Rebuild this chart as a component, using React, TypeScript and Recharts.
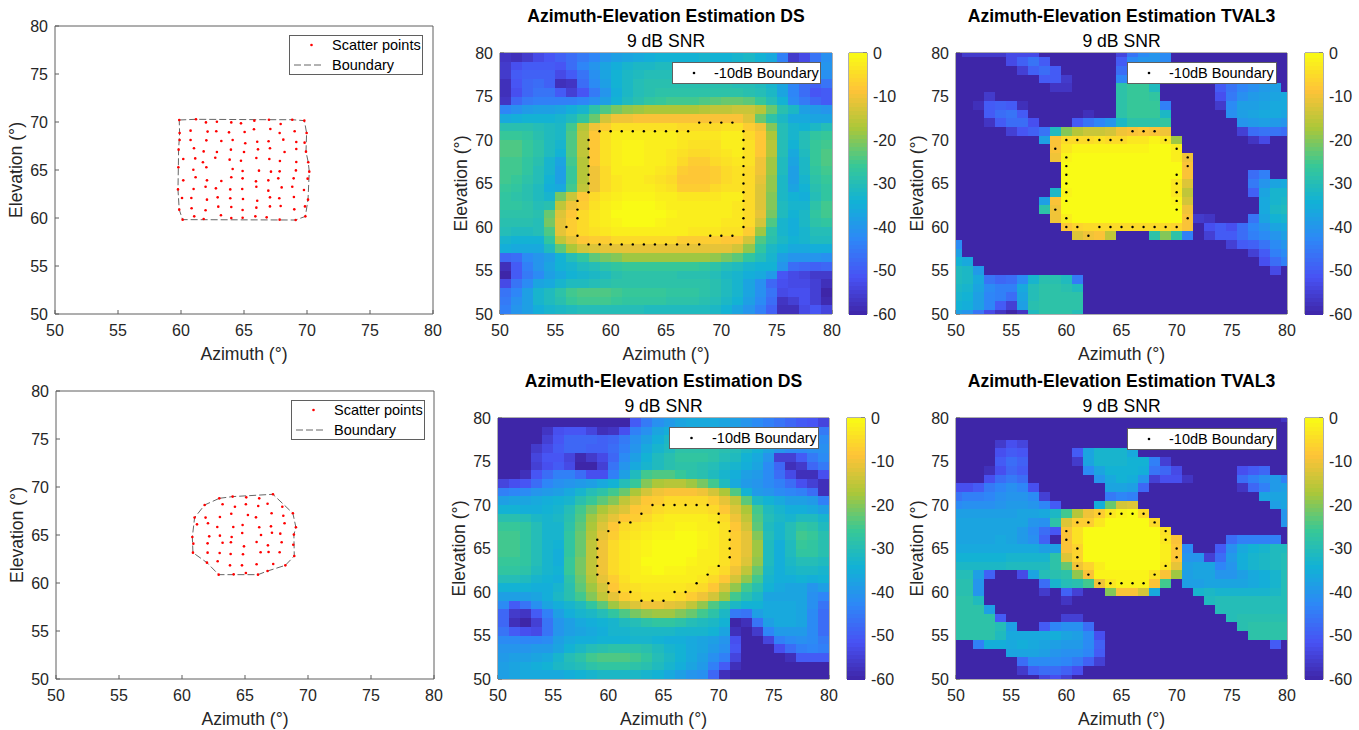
import React from 'react';
import { ScatterChart, Scatter, XAxis, YAxis } from 'recharts';

const azTicks = [50, 55, 60, 65, 70, 75, 80];
const elTicks = [50, 55, 60, 65, 70, 75, 80];
const cbTicks = [-60, -50, -40, -30, -20, -10, 0];

// heatmap values are dB below peak, rows from top to bottom
const dsTopRows = [
  [57,58,56,53,51,49,47,45,43,40,38,37,36,35,34,34,34,34,33,34,34,33,32,34,36,44,56,53,46,41],
  [56,52,50,50,50,51,47,43,40,37,35,33,32,32,31,31,31,31,31,32,32,32,33,35,38,42,46,47,44,40],
  [56,50,49,49,49,53,50,46,41,37,34,32,31,30,30,30,30,30,30,30,31,31,32,33,36,41,44,46,45,41],
  [58,51,48,47,49,58,57,47,42,38,34,32,30,29,29,29,29,29,29,29,29,30,30,31,33,37,43,47,49,46],
  [58,52,48,46,46,50,55,51,45,40,35,32,30,29,28,28,28,28,28,28,28,28,29,30,32,37,43,47,51,50],
  [57,48,45,44,44,44,44,43,41,38,34,31,29,27,26,25,25,25,24,23,22,22,23,26,30,34,42,45,48,50],
  [43,41,39,38,38,37,35,33,28,24,21,19,18,17,17,17,17,17,16,15,15,14,14,16,22,29,32,38,39,40],
  [36,35,34,34,34,33,31,27,22,13,10,10,9,9,9,9,9,9,9,9,9,9,12,22,28,32,36,36,37,37],
  [29,29,29,30,31,32,25,16,10,7,4,4,4,4,4,4,5,5,5,5,4,4,7,10,20,30,33,34,32,30],
  [26,26,27,29,31,32,24,15,8,4,2,2,2,2,2,2,3,3,3,3,2,2,5,8,17,30,33,30,27,26],
  [24,24,26,28,31,33,24,15,8,4,2,1,1,2,2,2,3,4,4,4,2,2,4,8,16,30,34,30,26,25],
  [24,24,26,28,31,34,24,15,8,4,2,1,1,2,2,3,4,5,5,4,3,2,4,8,16,30,36,31,26,24],
  [25,25,27,29,33,37,25,16,8,4,2,1,1,2,2,3,5,7,7,5,4,3,4,10,18,31,37,32,26,24],
  [25,25,27,30,33,38,26,16,10,5,2,2,2,2,3,4,7,8,8,7,5,4,5,10,18,31,38,32,27,25],
  [25,26,28,30,34,38,26,16,10,5,3,2,2,3,4,5,8,8,8,7,5,4,5,11,19,32,38,33,28,26],
  [26,27,29,31,35,36,25,15,10,5,3,2,2,2,3,4,7,7,7,5,4,4,5,12,19,32,37,34,29,27],
  [27,28,29,31,33,21,14,8,5,3,2,1,1,1,2,2,3,3,3,3,2,2,5,12,20,32,34,35,30,27],
  [27,27,28,30,29,15,10,7,4,2,1,0,0,0,1,2,2,2,2,2,2,3,5,12,20,31,33,33,28,25],
  [28,28,28,29,22,12,8,5,3,2,0,0,0,0,0,1,2,2,2,2,2,3,5,11,21,31,34,32,27,25],
  [29,29,29,30,21,11,7,5,3,2,1,0,0,0,1,2,2,2,2,2,3,3,5,13,24,33,35,32,28,27],
  [30,31,31,30,24,11,7,5,4,3,2,2,2,2,2,2,2,3,3,3,4,4,7,18,28,33,35,33,30,30],
  [33,34,34,34,27,15,11,8,7,7,5,5,5,5,5,5,7,7,7,7,8,8,13,24,29,32,34,33,31,31],
  [35,36,36,36,31,23,17,13,12,11,11,11,11,11,11,11,11,11,11,11,11,13,19,27,32,34,36,36,35,35],
  [48,47,42,40,38,34,30,27,23,21,20,18,18,18,18,18,18,18,18,19,21,23,27,30,33,38,40,40,40,41],
  [58,50,44,40,37,34,33,31,30,28,27,26,26,26,26,26,26,26,27,28,30,31,33,34,34,40,47,48,49,48],
  [60,50,45,42,38,36,34,33,32,31,29,28,28,28,28,28,29,29,29,30,32,33,35,36,39,51,53,54,56,56],
  [53,46,42,37,36,33,31,31,30,29,28,28,28,28,28,28,28,28,28,29,31,33,37,41,48,52,53,53,55,58],
  [46,43,38,33,31,28,25,24,24,24,25,26,26,26,26,27,27,27,28,29,31,33,37,41,46,53,52,52,55,60],
  [45,41,38,33,31,29,26,25,25,25,26,27,27,27,27,28,28,28,29,30,32,34,38,42,47,57,55,52,55,59],
  [44,40,38,35,33,32,31,30,30,30,30,30,30,31,31,31,31,31,31,32,34,37,40,44,49,58,58,53,51,54],
];

const tvalTopRows = [
  [60,56,56,56,56, 53,53,53,60,60, 60,60,60,60,60, 54,46,42,40,42, 60,60,60,60,60, 60,60,60,60,60, 60],
  [60,60,60,60,60, 53,49,46,50,60, 60,60,60,60,60, 50,42,40,40,42, 60,60,60,60,60, 60,60,60,60,60, 60],
  [60,60,60,60,60, 60,55,49,47,50, 60,60,60,60,60, 47,40,40,40,40, 60,60,60,60,60, 60,60,60,60,60, 60],
  [60,60,60,60,60, 60,60,60,50,50, 56,60,60,60,60, 43,33,33,33,33, 60,60,60,60,60, 60,60,60,60,60, 60],
  [60,60,60,60,60, 60,60,60,60,57, 57,60,60,60,60, 28,26,26,31,60, 60,60,60,60,50, 46,43,41,39,38, 60],
  [60,60,60,56,60, 60,60,60,60,60, 60,60,60,60,60, 28,26,26,27,60, 60,60,60,60,52, 45,41,39,38,37, 36],
  [60,60,58,50,49, 50,58,60,60,60, 60,60,60,60,60, 28,26,26,26,44, 60,60,60,60,56, 42,38,38,37,36, 36],
  [60,60,60,50,47, 46,50,60,60,60, 60,60,58,60,60, 28,26,26,26,32, 60,60,60,60,60, 41,38,37,36,36, 37],
  [60,60,60,57,50, 47,47,52,60,60, 60,50,46,43,40, 32,28,28,28,27, 60,60,60,60,60, 60,40,39,38,39, 40],
  [60,60,60,60,60, 55,51,49,46,31, 20,16,14,14,13, 10,9,8,9,10, 60,60,60,60,60, 60,55,47,46,46, 47],
  [60,60,60,60,60, 60,60,60,38,9, 5,5,5,4,5, 5,3,3,1,3, 18,60,60,60,60, 60,60,57,53,60, 60],
  [60,60,60,60,60, 60,60,60,60,9, 3,1,1,1,1, 1,1,1,0,0, 2,60,60,60,60, 60,60,60,60,60, 60],
  [60,60,60,60,60, 60,60,60,60,10, 1,0,0,0,0, 0,0,0,0,0, 2,10,60,60,60, 60,60,60,60,60, 60],
  [60,60,60,60,60, 60,60,60,60,60, 0,0,0,0,0, 0,0,0,0,0, 0,9,60,60,60, 60,60,60,60,60, 60],
  [60,60,60,60,60, 60,60,60,60,60, 0,0,0,0,0, 0,0,0,0,0, 0,9,60,60,60, 60,60,47,44,60, 60],
  [60,60,60,60,60, 60,60,60,60,60, 0,0,0,0,0, 0,0,0,0,0, 3,12,60,60,60, 60,60,45,40,37, 36],
  [60,60,60,60,60, 60,60,60,60,32, 1,0,0,0,0, 0,0,0,0,0, 3,15,60,60,60, 60,60,49,37,33, 33],
  [60,60,60,60,60, 60,60,60,38,9, 0,0,0,0,0, 0,0,0,0,0, 1,13,60,60,60, 60,60,60,36,33, 32],
  [60,60,60,60,60, 60,60,60,28,10, 0,0,0,0,0, 0,0,0,0,0, 0,10,60,60,60, 60,60,60,36,32, 31],
  [60,60,60,60,60, 60,60,60,60,10, 2,0,0,0,0, 0,0,0,0,0, 0,9,56,57,60, 60,60,46,37,34, 33],
  [60,60,60,60,60, 60,60,60,60,60, 8,6,5,5,5, 5,5,5,5,5, 6,9,60,52,50, 52,47,43,40,37, 36],
  [60,60,60,60,60, 60,60,60,60,60, 60,12,10,9,15, 60,60,60,28,20, 28,44,60,55,50, 50,47,44,42,40, 38],
  [42,60,60,60,60, 60,60,60,60,60, 60,60,60,60,60, 60,60,60,60,60, 60,60,60,60,60, 55,50,49,46,42, 40],
  [38,60,60,60,60, 60,60,60,60,60, 60,60,60,60,60, 60,60,60,60,60, 60,60,60,60,60, 60,60,55,50,44, 42],
  [34,36,60,60,60, 60,60,60,60,60, 60,60,60,60,60, 60,60,60,60,60, 60,60,60,60,60, 60,60,60,52,47, 44],
  [31,32,39,60,60, 60,60,60,60,60, 60,60,60,60,60, 60,60,60,60,60, 60,60,60,60,60, 60,60,60,60,53, 60],
  [31,32,36,46,48, 47,42,33,29,29, 31,45,60,60,60, 60,60,60,60,60, 60,60,60,60,60, 60,60,60,60,60, 60],
  [32,33,37,42,44, 44,36,30,28,28, 29,31,60,60,60, 60,60,60,60,60, 60,60,60,60,60, 60,60,60,60,60, 60],
  [33,34,38,43,44, 47,37,30,28,28, 28,28,60,60,60, 60,60,60,60,60, 60,60,60,60,60, 60,60,60,60,60, 60],
  [34,35,38,43,50, 55,38,29,28,28, 28,28,60,60,60, 60,60,60,60,60, 60,60,60,60,60, 60,60,60,60,60, 60],
  [38,40,46,53,57, 60,57,31,28,28, 28,30,60,60,60, 60,60,60,60,60, 60,60,60,60,60, 60,60,60,60,60, 60],
];

const dsBottomRows = [
  [60,60,60,60,60, 60,60,60,60,60, 60,60,50,45,41, 39,37,36,36,36, 37,38,40,42,44, 46,48,50,51,54],
  [60,60,60,60,57, 52,51,51,54,58, 57,52,44,41,37, 35,33,32,32,32, 33,34,36,38,40, 42,44,46,47,45],
  [60,60,60,60,55, 51,48,48,48,49, 48,45,41,38,35, 32,30,30,30,30, 31,32,34,36,38, 40,42,42,42,42],
  [60,60,60,56,53, 50,48,48,49,49, 47,44,40,36,33, 31,28,28,28,28, 29,30,32,34,37, 40,42,42,41,41],
  [60,60,60,54,51, 51,54,59,56,53, 48,42,38,34,31, 29,27,27,27,28, 30,31,34,36,40, 55,55,50,45,42],
  [60,60,60,55,52, 50,53,60,60,55, 46,40,36,33,31, 29,28,28,29,30, 32,33,35,37,42, 48,58,56,48,45],
  [60,60,58,51,47, 44,44,47,52,52, 44,38,31,25,24, 24,26,28,29,31, 33,35,38,39,42, 47,53,58,58,52],
  [54,52,51,47,43, 41,40,39,38,36, 34,30,26,20,17, 16,16,18,21,25, 31,36,39,40,42, 44,47,52,55,58],
  [44,43,42,40,39, 38,36,33,30,28, 25,22,17,13,10, 9,9,9,10,13, 17,24,34,39,40, 42,43,44,47,58],
  [38,37,37,36,35, 34,33,29,26,23, 20,15,12,8,7, 5,5,5,5,7, 11,15,23,32,34, 36,38,38,39,44],
  [34,34,35,35,34, 33,30,25,21,17, 14,12,8,7,5, 4,4,4,4,5, 8,12,17,25,31, 33,35,35,36,38],
  [29,29,30,32,33, 32,29,24,18,14, 11,8,7,5,3, 2,2,2,2,3, 5,10,15,24,30, 32,33,31,31,33],
  [26,26,27,30,33, 33,28,23,17,12, 8,5,4,3,2, 2,1,1,2,2, 4,8,13,23,31, 33,30,27,28,31],
  [25,25,27,30,33, 33,27,22,16,11, 7,4,3,2,1, 1,0,0,1,2, 4,7,11,20,30, 33,30,25,26,29],
  [25,25,27,30,33, 34,27,22,15,10, 5,3,2,1,0, 0,0,0,1,2, 4,7,11,18,31, 35,31,26,27,29],
  [25,25,27,30,33, 35,27,22,15,10, 5,3,2,1,0, 0,0,0,2,2, 4,7,11,18,31, 35,31,27,27,29],
  [26,26,27,30,33, 35,26,21,15,10, 5,3,2,0,0, 0,0,1,2,2, 4,7,12,19,31, 35,32,30,30,31],
  [27,27,28,31,33, 34,26,21,15,10, 5,3,2,1,0, 1,1,2,2,3, 5,10,15,22,32, 35,33,32,32,33],
  [30,30,31,33,34, 35,28,22,16,11, 7,4,2,2,2, 2,2,2,3,5, 8,13,19,25,33, 35,35,34,35,34],
  [34,34,34,35,35, 33,29,23,18,13, 8,5,4,3,3, 3,3,4,5,8, 13,19,25,29,34, 36,37,37,40,38],
  [38,38,38,37,35, 32,29,25,20,15, 11,7,5,4,4, 4,5,7,10,13, 18,25,29,32,37, 37,37,37,41,43],
  [42,50,46,41,37, 35,33,31,27,23, 18,14,12,10,10, 11,12,15,19,24, 28,32,34,34,36, 36,36,37,41,46],
  [48,56,57,50,44, 38,35,33,32,30, 27,24,21,19,18, 18,20,22,25,28, 32,45,46,38,36, 36,36,37,42,47],
  [48,58,60,55,46, 40,38,36,35,34, 33,31,30,28,27, 27,28,30,31,32, 34,60,58,46,38, 36,36,37,42,47],
  [46,50,52,53,46, 40,38,37,36,35, 33,33,32,32,32, 32,33,33,33,34, 37,58,60,56,43, 39,39,39,42,47],
  [42,42,43,43,42, 38,36,35,35,34, 34,34,33,33,34, 35,35,36,37,38, 40,52,60,60,54, 44,42,41,42,45],
  [40,40,40,39,39, 37,34,32,30,29, 28,28,28,29,31, 33,34,36,37,39, 41,51,60,60,60, 52,47,44,43,44],
  [39,38,38,37,36, 33,30,28,25,24, 24,24,25,27,30, 32,34,36,38,41, 44,54,60,60,60, 60,58,50,50,50],
  [38,37,36,35,34, 32,31,30,28,27, 27,27,28,29,31, 33,35,37,39,44, 50,58,60,60,60, 60,60,60,60,60],
  [38,37,36,36,36, 36,35,34,33,32, 32,32,32,33,34, 36,38,40,41,48, 58,60,60,60,60, 60,60,60,60,60],
];

const tvalBottomRows = [
  [60,60,60,60,60, 60,60,60,60,60, 60,60,60,60,60, 60,60,60,60,60, 60,60,60,60,60, 60,60,60,60,60, 57],
  [60,60,60,60,60, 60,60,60,60,60, 60,60,60,60,60, 60,60,60,60,60, 60,60,60,60,60, 60,60,60,60,60, 60],
  [60,60,60,60,60, 60,60,60,60,60, 60,60,60,60,60, 60,60,60,60,60, 60,60,60,60,60, 60,60,60,60,60, 60],
  [60,60,60,60,56, 52,54,60,60,60, 60,60,60,60,60, 60,60,60,60,60, 60,60,60,60,60, 60,60,60,60,60, 60],
  [60,60,60,60,52, 50,51,60,60,60, 60,50,37,33,33, 33,36,60,60,60, 60,60,60,60,60, 60,60,60,60,60, 60],
  [60,60,60,60,50, 47,49,60,60,60, 60,56,37,33,33, 33,34,34,44,55, 60,60,60,60,60, 60,60,60,60,60, 60],
  [60,60,60,58,52, 48,50,60,60,60, 60,60,42,37,34, 34,34,35,46,48, 53,60,60,60,60, 60,52,50,48,60, 60],
  [60,60,60,52,47, 45,47,60,60,60, 60,60,60,40,36, 34,35,40,55,52, 52,57,60,60,60, 60,47,44,41,39, 44],
  [52,52,50,45,43, 41,43,52,60,60, 60,60,60,60,37, 37,38,48,60,60, 60,60,60,60,60, 60,57,48,44,39, 38],
  [46,44,44,43,41, 40,40,42,55,60, 60,60,60,60,45, 43,44,60,60,60, 60,60,60,60,60, 60,60,60,37,37, 37],
  [42,41,41,41,40, 39,39,40,43,50, 60,60,60,35,22, 13,12,60,60,60, 60,60,60,60,60, 60,60,60,60,38, 37],
  [38,38,38,38,38, 38,37,37,36,32, 25,16,10,7,3, 1,0,5,60,60, 60,60,60,60,60, 60,60,60,60,60, 40],
  [37,37,37,37,37, 37,37,40,41,28, 12,7,7,3,0, 0,0,0,5,60, 60,60,60,60,60, 60,60,60,60,60, 40],
  [37,37,37,37,37, 37,39,42,47,51, 9,4,0,0,0, 0,0,0,0,4, 60,60,60,60,60, 60,60,60,60,60, 60],
  [37,37,37,37,36, 37,39,41,49,60, 9,4,0,0,0, 0,0,0,0,3, 9,60,60,60,60, 47,44,44,44,44, 60],
  [36,36,36,36,36, 36,36,36,38,38, 9,6,0,0,0, 0,0,0,0,2, 8,42,60,60,50, 41,36,34,33,31, 31],
  [34,34,34,34,34, 33,33,33,33,28, 12,6,0,0,0, 0,0,0,0,2, 8,40,40,55,47, 39,35,33,32,31, 30],
  [32,32,32,32,32, 31,31,31,31,28, 22,10,6,2,0, 0,0,0,0,3, 11,38,37,37,43, 40,35,33,32,31, 30],
  [30,30,38,49,60, 60,53,37,30,29, 28,19,9,1,1, 1,1,1,4,9, 18,38,37,37,40, 40,38,36,35,33, 30],
  [29,29,40,60,60, 60,60,60,47,33, 30,29,25,10,3, 1,1,1,9,25, 60,38,38,37,37, 37,37,36,35,33, 30],
  [29,29,40,60,60, 60,60,60,56,60, 49,55,60,60,20, 9,9,13,36,60, 60,60,33,32,33, 33,33,33,33,32, 30],
  [28,28,31,60,60, 60,60,60,60,60, 57,60,60,60,60, 60,60,60,60,60, 60,60,60,31,30, 30,30,30,30,30, 30],
  [28,28,28,38,60, 60,60,60,60,60, 60,60,60,60,60, 60,60,60,60,60, 60,60,60,60,30, 30,30,30,30,30, 30],
  [28,28,28,28,50, 60,60,60,60,60, 55,55,60,60,60, 60,60,60,60,60, 60,60,60,60,60, 30,29,29,29,29, 29],
  [28,28,28,28,30, 38,60,60,50,43, 41,41,47,60,60, 60,60,60,60,60, 60,60,60,60,60, 60,29,28,28,28, 28],
  [28,28,28,28,31, 36,36,36,36,35, 37,38,42,52,60, 60,60,60,60,60, 60,60,60,60,60, 60,60,28,28,28, 28],
  [60,60,44,35,35, 36,35,36,37,38, 39,39,42,49,60, 60,60,60,60,60, 60,60,60,60,60, 60,60,60,60,50, 60],
  [60,60,60,60,60, 37,37,37,38,40, 41,41,43,50,60, 60,60,60,60,60, 60,60,60,60,60, 60,60,60,60,60, 60],
  [60,60,60,60,60, 60,47,42,42,42, 43,45,49,55,60, 60,60,60,60,60, 60,60,60,60,60, 60,60,60,60,60, 60],
  [60,60,60,60,60, 60,56,49,47,47, 49,52,60,60,60, 60,60,60,60,60, 60,60,60,60,60, 60,60,60,60,60, 60],
  [60,60,60,60,60, 60,60,60,54,52, 55,60,60,60,60, 60,60,60,60,60, 60,60,60,60,60, 60,60,60,60,60, 60],
];

// -10 dB boundary dots: [azimuth, elevation]
const dsTopDots = [
  [68,72],[69,72],[70,72],[71,72],
  [59,71],[60,71],[61,71],[62,71],[63,71],[64,71],[65,71],[66,71],[67,71],[72,71],
  [58,70],[58,69],[58,68],[58,67],[58,66],[58,65],[58,64],
  [72,70],[72,69],[72,68],[72,67],[72,66],[72,65],[72,64],[72,63],[72,62],[72,61],[72,60],
  [57,63],[57,62],[57,61],[56,60],[57,59],[69,59],[70,59],[71,59],
  [58,58],[59,58],[60,58],[61,58],[62,58],[63,58],[64,58],[65,58],[66,58],[67,58],[68,58],
];
const tvalTopDots = [
  [66,71],[67,71],[68,71],
  [60,70],[61,70],[62,70],[63,70],[64,70],[65,70],[69,70],
  [59,69],[70,69],[60,68],[71,68],[60,67],[71,67],[60,66],[70,66],[60,65],[70,65],
  [60,64],[70,64],[60,63],[70,63],[59,62],[70,62],[60,61],[71,61],
  [60,60],[61,60],[63,60],[64,60],[65,60],[66,60],[67,60],[68,60],[69,60],[70,60],[62,59],
];
const dsBottomDots = [
  [64,70],[65,70],[66,70],[67,70],[68,70],[69,70],
  [63,69],[70,69],[61,68],[62,68],[70,68],[60,67],[71,67],[59,66],[71,66],[59,65],[71,65],
  [59,64],[71,64],[59,63],[70,63],[59,62],[69,62],[60,61],[68,61],
  [60,60],[61,60],[62,60],[66,60],[67,60],[63,59],[64,59],[65,59],
];
const tvalBottomDots = [
  [63,69],[64,69],[65,69],[66,69],[67,69],
  [61,68],[62,68],[68,68],[60,67],[69,67],[60,66],[69,66],[61,65],[70,65],[61,64],[70,64],
  [61,63],[69,63],[62,62],[68,62],
  [63,61],[64,61],[65,61],[66,61],[67,61],
];

// scatter points: [azimuth, elevation]
const squarePoints = [
  [59.86,70.21],[61.19,70.28],[61.98,69.96],[62.85,70.03],[63.99,69.96],[64.76,69.86],[65.82,70.14],[66.98,70.24],[67.91,69.79],[68.83,70.24],[69.79,70.14],
  [59.89,68.85],[60.76,69.1],[62.11,69],[62.8,69.03],[63.81,68.92],[65.05,68.96],[65.79,69.24],[67.09,69.27],[67.83,68.85],[69.02,69.03],[69.97,68.85],
  [59.89,68.12],[60.76,68.12],[62.01,68.09],[63.2,68.02],[64.1,68.12],[65.1,67.78],[66.05,67.95],[66.95,67.99],[68.12,68.16],[69.15,67.92],[69.81,67.85],
  [59.81,67.12],[61.03,67.26],[61.8,66.94],[62.85,66.87],[63.96,67.12],[65,66.87],[66.11,67.15],[67.06,67.26],[68.22,66.87],[69.15,67.19],[69.92,66.91],
  [60.18,66.15],[61.13,66.21],[61.74,65.8],[62.72,66.28],[63.86,66.08],[64.76,65.97],[65.98,66.25],[67.01,66.15],[67.85,65.94],[69.15,65.83],[70.1,65.8],
  [59.79,65.28],[60.98,65.03],[62.01,65.28],[64.1,65.1],[64.89,64.9],[66.19,64.93],[67.14,64.83],[67.83,64.86],[69.12,64.96],[70.18,64.83],
  [60.18,63.92],[61.16,64.24],[62.06,63.92],[63.2,63.85],[63.99,64.24],[64.89,64.13],[65.95,63.82],[66.93,63.92],[67.72,64.13],[68.94,64.13],[70.05,64.1],
  [59.76,62.98],[61,63.02],[61.95,63.26],[62.77,63.09],[63.91,62.98],[64.86,63.02],[65.98,63.26],[66.93,62.85],[67.99,63.19],[68.83,63.26],[69.76,62.92],
  [60.08,62.08],[60.82,62.08],[62.06,61.91],[62.91,62.15],[63.91,62.05],[64.92,61.98],[66.05,61.8],[67.06,62.15],[67.8,62.05],[68.96,62.19],[70.08,61.91],
  [59.86,60.87],[60.84,61.01],[61.95,60.8],[62.96,61.18],[63.99,61.15],[64.89,60.83],[65.98,61.08],[67.06,61.21],[67.91,61.25],[68.99,60.9],[69.84,61.21],
  [60.13,59.83],[61.05,60.17],[61.8,59.9],[63.17,60.28],[63.99,60],[64.89,60.03],[65.9,60.17],[66.8,60.07],[67.83,59.83],[69.1,59.79],[69.87,60.17],
];
const squareBoundary = [
  [59.86,70.21],[61.19,70.28],[66.98,70.24],[68.83,70.24],[69.79,70.14],[69.97,68.85],[69.92,66.91],[70.1,65.8],[70.18,64.83],[70.08,61.91],
  [69.87,60.17],[69.1,59.79],[60.13,59.83],[59.86,60.87],[59.76,62.98],[59.79,65.28],[59.81,67.12],[59.89,68.85],[59.86,70.21],
];
const roundPoints = [
  [62.96,68.82],[64.02,69],[65.1,68.92],[66.13,68.82],[67.22,69.24],
  [63.22,68.2],[64.2,67.95],[65.07,68.2],[66.05,68.02],[66.79,68.26],[67.96,67.95],
  [61.8,68.13],[61,66.81],[61.87,66.81],[63.01,66.88],[63.91,67.22],[65.23,67.08],[65.87,66.84],[67.11,67.26],[68.04,67.01],[68.8,67.26],
  [61.19,66.11],[62.06,66.22],[62.8,65.83],[64.07,65.83],[64.81,66.04],[66.13,65.8],[67.06,65.9],[68.14,66.22],[69.04,65.8],
  [60.82,64.79],[62.16,64.86],[63.01,64.93],[63.94,64.79],[64.78,65.21],[66.27,65],[67.14,65.24],[67.8,65.14],[68.88,65.04],
  [60.9,64.1],[62.03,64.13],[63.22,64.2],[63.88,64.24],[64.92,63.82],[65.92,64.27],[66.82,63.92],[67.91,64.24],[68.83,63.99],
  [60.87,63.16],[62.03,63.16],[62.99,63.13],[63.86,63.02],[64.84,62.99],[66.24,63.2],[66.87,63.23],[67.75,63.2],[68.91,62.81],
  [61.98,62.12],[62.83,62.26],[63.81,61.84],[64.76,61.84],[65.92,61.95],[67.24,61.98],[68.2,61.84],
  [62.91,60.87],[64.1,60.9],[65.07,61.04],[66.03,60.87],[66.79,61.25],
];
const roundBoundary = [
  [62.96,68.82],[64.02,69],[67.22,69.24],[68.8,67.26],[69.04,65.8],[68.88,65.04],[68.91,62.81],[68.2,61.84],[66.79,61.25],[66.03,60.87],
  [62.91,60.87],[61.98,62.12],[60.87,63.16],[60.82,64.79],[61,66.81],[61.8,68.13],[62.96,68.82],
];

// parula colormap stops from -60 dB to 0 dB
const parulaStops = [
  [62, 38, 168], [72, 82, 244], [46, 135, 247], [18, 177, 214],
  [55, 200, 151], [171, 199, 57], [254, 195, 56], [249, 251, 21],
];
const cbLevels = Array.from({ length: 64 }, (_, i) => -60 + (i + 0.5) * (60 / 64));

const FONT = '"Liberation Sans", Arial, sans-serif';
const INK = '#262626';
const FRAME = '#5f5f5f';
const GUTTER = { left: 50, right: 12, top: 10, bottom: 50 };

function dbColor(db: number) {
  const t = Math.min(0.9999, Math.max(0, (db + 60) / 60)) * (parulaStops.length - 1);
  const i = Math.floor(t);
  const f = t - i;
  const c = parulaStops[i].map((v, k) => Math.round(v + (parulaStops[i + 1][k] - v) * f));
  return `rgb(${c[0]},${c[1]},${c[2]})`;
}

const gridCells = (rows: number[][], firstAz: number, firstEl: number) =>
  rows.flatMap((row, j) => row.map((atten, i) => ({ az: firstAz + i, el: firstEl - j, db: -atten })));

const toXY = (pairs: number[][]) => pairs.map(([az, el]) => ({ az, el }));

const dotShape = (fill: string, r: number) => (p: any) => <circle cx={p.cx} cy={p.cy} r={r} fill={fill} />;
const noShape = () => <g />;

// top and right axes need 1px or recharts skips them, so margins give that pixel back
const chartMargin = { top: GUTTER.top - 1, right: GUTTER.right - 1, bottom: 0, left: 0 };

function axes() {
  const tick = { fontSize: 16, fill: INK, fontFamily: FONT };
  return [
    <XAxis key="b" xAxisId="b" type="number" dataKey="az" domain={[50, 80]} ticks={azTicks} interval={0} allowDataOverflow
      height={GUTTER.bottom} tick={tick} tickSize={-4} tickMargin={15} stroke={FRAME}
      label={{ value: 'Azimuth (°)', position: 'center', dy: 15, fontSize: 17.6, fill: INK, fontFamily: FONT }} />,
    <YAxis key="l" yAxisId="l" type="number" dataKey="el" domain={[50, 80]} ticks={elTicks} interval={0} allowDataOverflow
      width={GUTTER.left} tick={tick} tickSize={-4} tickMargin={11} stroke={FRAME}
      label={{ value: 'Elevation (°)', position: 'center', angle: -90, dx: -14, fontSize: 17.6, fill: INK, fontFamily: FONT }} />,
    <XAxis key="t" xAxisId="t" orientation="top" type="number" dataKey="az" domain={[50, 80]} ticks={azTicks} interval={0}
      height={1} tick={false} tickSize={-4} stroke={FRAME} />,
    <YAxis key="r" yAxisId="r" orientation="right" type="number" dataKey="el" domain={[50, 80]} ticks={elTicks} interval={0}
      width={1} tick={false} tickSize={-4} stroke={FRAME} />,
  ];
}

function BoxLegend({ box, textX, labels, hasLine }: any) {
  const rowH = box.h / labels.length;
  return (
    <div style={{ position: 'absolute', left: box.x, top: box.y, width: box.w, height: box.h, boxSizing: 'border-box', background: '#fff', border: `1px solid ${FRAME}`, fontFamily: FONT, fontSize: 14.5, color: '#000' }}>
      {labels.map((label: string, i: number) => (
        <div key={label} style={{ position: 'absolute', left: textX - box.x, top: rowH * i - 1, height: rowH, lineHeight: `${rowH}px`, whiteSpace: 'nowrap' }}>{label}</div>
      ))}
      <svg width={box.w - 2} height={box.h - 2} style={{ position: 'absolute', left: 0, top: 0 }}>
        <circle cx={(textX - box.x) / 2 + 0.5} cy={rowH / 2 - 1} r={1.3} fill={hasLine ? '#f00' : '#000'} />
        {hasLine && <line x1={4} x2={textX - box.x - 8} y1={rowH * 1.5 - 1} y2={rowH * 1.5 - 1} stroke="#555" strokeWidth={0.9} strokeDasharray="7 3" />}
      </svg>
    </div>
  );
}

function ScatterPanel({ plot, points, boundary, legend }: any) {
  return (
    <>
      <div style={{ position: 'absolute', left: plot.x - GUTTER.left, top: plot.y - GUTTER.top }}>
        <ScatterChart width={plot.w + GUTTER.left + GUTTER.right} height={plot.h + GUTTER.top + GUTTER.bottom} margin={chartMargin}>
          {axes()}
          <Scatter xAxisId="b" yAxisId="l" data={toXY(boundary)} line={{ stroke: '#555', strokeWidth: 0.9, strokeDasharray: '7 3' }} lineType="joint"
            shape={noShape} isAnimationActive={false} />
          <Scatter xAxisId="b" yAxisId="l" data={toXY(points)} shape={dotShape('#f00', 1.3)} isAnimationActive={false} />
        </ScatterChart>
      </div>
      <BoxLegend {...legend} labels={['Scatter points', 'Boundary']} hasLine />
    </>
  );
}

function HeatPanel({ plot, rows, firstAz, firstEl, dots, legend, bar, title, titleY }: any) {
  const cw = plot.w / 30;
  const ch = plot.h / 30;
  const cellShape = (p: any) => (
    <rect x={p.cx - cw / 2} y={p.cy - ch / 2} width={cw + 0.6} height={ch + 0.6} fill={dbColor(p.payload.db)} shapeRendering="crispEdges" />
  );
  const barData = cbLevels.map((db) => ({ x: 0.5, db }));
  const bh = bar.h / 64;
  const barShape = (p: any) => (
    <rect x={p.cx - bar.w / 2} y={p.cy - bh / 2} width={bar.w} height={bh + 0.6} fill={dbColor(p.payload.db)} shapeRendering="crispEdges" />
  );
  return (
    <>
      <div style={{ position: 'absolute', left: plot.x - 100, width: plot.w + 200, top: titleY, textAlign: 'center', fontFamily: FONT, fontWeight: 'bold', fontSize: 17.6, lineHeight: '20px', color: '#000', whiteSpace: 'nowrap' }}>{title}</div>
      <div style={{ position: 'absolute', left: plot.x, width: plot.w, top: plot.y - 22, textAlign: 'center', fontFamily: FONT, fontSize: 17.6, lineHeight: '20px', color: '#000' }}>9 dB SNR</div>
      <div style={{ position: 'absolute', left: plot.x - GUTTER.left, top: plot.y - GUTTER.top }}>
        <ScatterChart width={plot.w + GUTTER.left + GUTTER.right} height={plot.h + GUTTER.top + GUTTER.bottom} margin={chartMargin}>
          <Scatter xAxisId="b" yAxisId="l" data={gridCells(rows, firstAz, firstEl)} shape={cellShape} isAnimationActive={false} />
          <Scatter xAxisId="b" yAxisId="l" data={toXY(dots)} shape={dotShape('#000', 1.2)} isAnimationActive={false} />
          {axes()}
        </ScatterChart>
      </div>
      <BoxLegend {...legend} labels={['-10dB Boundary']} />
      <div style={{ position: 'absolute', left: bar.x - 1, top: bar.y - GUTTER.top }}>
        <ScatterChart width={bar.w + 51} height={bar.h + GUTTER.top + 12} margin={{ top: GUTTER.top - 1, right: 49, bottom: 11, left: 0 }}>
          <Scatter xAxisId="x" yAxisId="y" data={barData} shape={barShape} isAnimationActive={false} />
          <XAxis xAxisId="x" type="number" dataKey="x" domain={[0, 1]} height={1} ticks={[]} tick={false} tickLine={false} stroke={FRAME} />
          <XAxis xAxisId="xt" orientation="top" type="number" dataKey="x" domain={[0, 1]} height={1} ticks={[]} tick={false} tickLine={false} stroke={FRAME} />
          <YAxis yAxisId="yl" type="number" dataKey="db" domain={[-60, 0]} width={1} ticks={[]} tick={false} tickLine={false} stroke={FRAME} />
          <YAxis yAxisId="y" orientation="right" type="number" dataKey="db" domain={[-60, 0]} ticks={cbTicks} interval={0}
            width={1} tick={{ fontSize: 16, fill: INK, fontFamily: FONT }} tickSize={-4} tickMargin={10} stroke={FRAME} />
        </ScatterChart>
      </div>
    </>
  );
}

export default function App() {
  return (
    <div style={{ position: 'absolute', left: 0, top: 0, width: 1359, height: 730, background: '#fff', overflow: 'hidden' }}>
      <ScatterPanel plot={{ x: 55, y: 26, w: 378, h: 288 }} points={squarePoints} boundary={squareBoundary}
        legend={{ box: { x: 289, y: 35, w: 134, h: 40 }, textX: 331 }} />
      <ScatterPanel plot={{ x: 56, y: 391, w: 378, h: 288 }} points={roundPoints} boundary={roundBoundary}
        legend={{ box: { x: 291, y: 400, w: 134, h: 40 }, textX: 333 }} />
      <HeatPanel plot={{ x: 500, y: 53, w: 332, h: 261 }} rows={dsTopRows} firstAz={50.5} firstEl={79.5} dots={dsTopDots}
        title="Azimuth-Elevation Estimation DS" titleY={6}
        legend={{ box: { x: 672, y: 62, w: 149, h: 22 }, textX: 713 }} bar={{ x: 849, y: 53, w: 18, h: 261 }} />
      <HeatPanel plot={{ x: 956, y: 53, w: 331, h: 261 }} rows={tvalTopRows} firstAz={50} firstEl={80} dots={tvalTopDots}
        title="Azimuth-Elevation Estimation TVAL3" titleY={6}
        legend={{ box: { x: 1127, y: 62, w: 150, h: 22 }, textX: 1168 }} bar={{ x: 1305, y: 53, w: 18, h: 261 }} />
      <HeatPanel plot={{ x: 498, y: 418, w: 331, h: 261 }} rows={dsBottomRows} firstAz={50.5} firstEl={79.5} dots={dsBottomDots}
        title="Azimuth-Elevation Estimation DS" titleY={371}
        legend={{ box: { x: 669, y: 427, w: 150, h: 22 }, textX: 711 }} bar={{ x: 847, y: 418, w: 18, h: 261 }} />
      <HeatPanel plot={{ x: 956, y: 418, w: 331, h: 261 }} rows={tvalBottomRows} firstAz={50} firstEl={80} dots={tvalBottomDots}
        title="Azimuth-Elevation Estimation TVAL3" titleY={371}
        legend={{ box: { x: 1127, y: 428, w: 150, h: 22 }, textX: 1168 }} bar={{ x: 1305, y: 418, w: 18, h: 261 }} />
    </div>
  );
}
